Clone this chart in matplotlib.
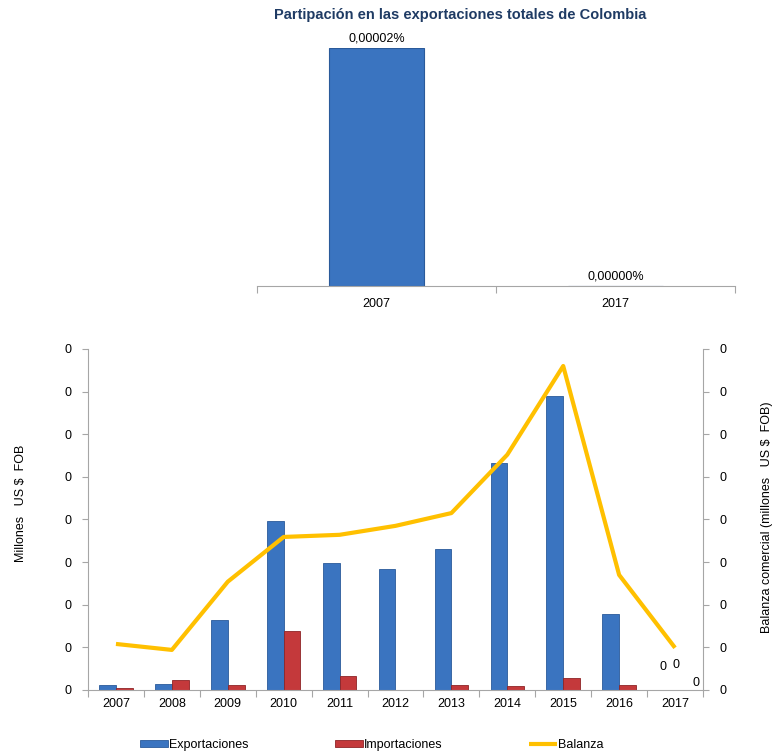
import numpy as np
import matplotlib
matplotlib.use("Agg")
import matplotlib.pyplot as plt
from matplotlib.ticker import FuncFormatter, FixedLocator

plt.rcParams['font.family'] = ['Liberation Sans', 'DejaVu Sans']

# top chart data
part_years = ["2007", "2017"]
part_values = [0.00002, 0.0]
part_labels = ["0,00002%", "0,00000%"]

# bottom chart data
years = ["2007", "2008", "2009", "2010", "2011", "2012", "2013", "2014", "2015", "2016", "2017"]
exportaciones = [0.12, 0.14, 1.64, 3.97, 2.98, 2.84, 3.31, 5.33, 6.90, 1.78, 0.0]
importaciones = [0.05, 0.23, 0.12, 1.38, 0.33, 0.0, 0.12, 0.10, 0.28, 0.12, 0.0]
balanza = [1.08, 0.94, 2.54, 3.59, 3.64, 3.85, 4.15, 5.52, 7.60, 2.70, 0.99]

blue = "#3A74C0"
red = "#C4393B"
gold = "#FFC000"
grey = "#A6A6A6"

fig = plt.figure(figsize=(7.76, 7.54), dpi=100)

# ---- top chart
ax1 = fig.add_axes([0.331, 0.6207, 0.616, 0.3156])
xp = np.arange(len(part_years))
ax1.bar(xp, part_values, width=0.4, color=blue, edgecolor="#2A5A9A", linewidth=0.8)
ax1.set_xlim(-0.5, 1.5)
ax1.set_ylim(0, 0.00002)
for s in ["left", "right", "top"]:
    ax1.spines[s].set_visible(False)
ax1.spines["bottom"].set_color(grey)
ax1.set_yticks([])
ax1.xaxis.set_major_locator(FixedLocator([-0.5, 0.5, 1.5]))
ax1.xaxis.set_minor_locator(FixedLocator(xp))
ax1.set_xticklabels([])
ax1.set_xticklabels(part_years, minor=True, fontsize=9)
ax1.tick_params(axis="x", which="major", length=5, color=grey, direction="out")
ax1.tick_params(axis="x", which="minor", length=0, pad=9)
for i, v in enumerate(part_values):
    ax1.text(xp[i], v + 0.0000003, part_labels[i], ha="center", va="bottom", fontsize=9, clip_on=False)
fig.text(0.593, 0.980, "Partipación en las exportaciones totales de Colombia",
         ha="center", va="center", fontsize=10.5, fontweight="bold", color="#1F3B64")

# ---- bottom chart
ax2 = fig.add_axes([0.1134, 0.0849, 0.7925, 0.4523])
x = np.arange(len(years))
w = 0.3
b1 = ax2.bar(x - w / 2, exportaciones, width=w, color=blue, edgecolor="#2A5A9A", linewidth=0.6, label="Exportaciones")
b2 = ax2.bar(x + w / 2, importaciones, width=w, color=red, edgecolor="#8E2426", linewidth=0.6, label="Importaciones")
ax2.set_xlim(-0.5, len(years) - 0.5)
ax2.set_ylim(0, 8)
ax2.set_yticks(np.arange(0, 9, 1))
fmt = FuncFormatter(lambda v, p: "0")
ax2.yaxis.set_major_formatter(fmt)
ax2.xaxis.set_major_locator(FixedLocator(np.arange(-0.5, len(years), 1)))
ax2.xaxis.set_minor_locator(FixedLocator(x))
ax2.set_xticklabels([])
ax2.set_xticklabels(years, minor=True, fontsize=9)
ax2.tick_params(axis="x", which="major", length=5, color=grey)
ax2.tick_params(axis="x", which="minor", length=0, pad=6)
ax2.tick_params(axis="y", length=4, color=grey, labelsize=9, pad=8)
for s in ["right", "top"]:
    ax2.spines[s].set_visible(False)
ax2.spines["left"].set_color(grey)
ax2.spines["bottom"].set_color(grey)
fig.text(0.027, 0.332, "Millones   US $  FOB", rotation=90, ha="center", va="center", fontsize=9)

ax3 = ax2.twinx()
ln, = ax3.plot(x, balanza, color=gold, linewidth=3, label="Balanza", solid_capstyle="butt")
ax3.set_ylim(0, 8)
ax3.set_yticks(np.arange(0, 9, 1))
ax3.yaxis.set_major_formatter(fmt)
ax3.tick_params(axis="y", length=4, color=grey, labelsize=9, pad=8)
for s in ["left", "top", "bottom"]:
    ax3.spines[s].set_visible(False)
ax3.spines["right"].set_color(grey)
fig.text(0.988, 0.314, "Balanza comercial (millones   US $  FOB)", rotation=90,
         ha="center", va="center", fontsize=9)

# small data labels near 2017
ax2.text(9.78, 0.48, "0", fontsize=9, ha="center")
ax2.text(10.02, 0.52, "0", fontsize=9, ha="center")
ax2.text(10.38, 0.1, "0", fontsize=9, ha="center")

fig.legend([b1, b2, ln], ["Exportaciones", "Importaciones", "Balanza"],
           loc="center left", bbox_to_anchor=(0.166, 0.012), ncol=3, frameon=False,
           fontsize=9, handlelength=2.2, handletextpad=0.1, columnspacing=6.95,
           handleheight=0.5)

fig.savefig("out.png", dpi=100)
